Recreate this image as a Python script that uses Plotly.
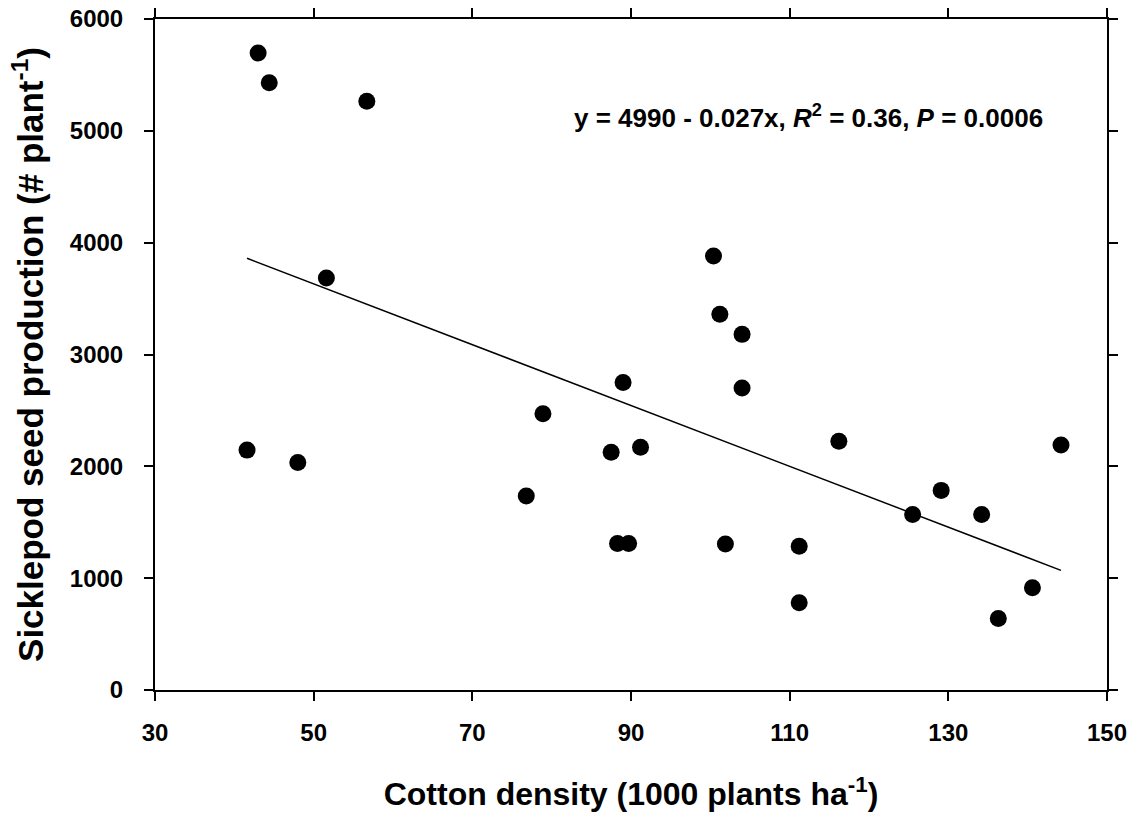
import plotly.graph_objects as go

# Data
cotton_density = [41.6, 43.0, 44.4, 48.0, 51.6, 56.7, 76.8, 78.9, 87.5, 88.3, 89.0, 89.7,
                  91.2, 100.4, 101.2, 101.9, 104.0, 104.0, 111.2, 111.2, 116.2, 125.5,
                  129.1, 134.2, 136.3, 140.6, 144.2]
seed_production = [2145, 5695, 5430, 2035, 3685, 5265, 1735, 2470, 2125, 1310, 2750, 1310,
                   2170, 3880, 3360, 1305, 3180, 2700, 1285, 780, 2225, 1570,
                   1785, 1570, 640, 915, 2190]

fit_x = [41.6, 144.2]
fit_y = [3860, 1070]

x_ticks = [30, 50, 70, 90, 110, 130, 150]
y_ticks = [0, 1000, 2000, 3000, 4000, 5000, 6000]

equation_text = "y = 4990 - 0.027x, <i>R</i><sup>2</sup> = 0.36, <i>P</i> = 0.0006"

FONT = "Liberation Sans, Arial, sans-serif"

fig = go.Figure()
fig.add_trace(go.Scatter(x=fit_x, y=fit_y, mode="lines",
                         line=dict(color="black", width=1.5), showlegend=False,
                         hoverinfo="skip"))
fig.add_trace(go.Scatter(x=cotton_density, y=seed_production, mode="markers",
                         marker=dict(color="black", size=17), showlegend=False))

axis_common = dict(showline=True, linecolor="black", linewidth=2, mirror="ticks",
                   ticks="outside", ticklen=9, tickwidth=1.5, tickcolor="black",
                   showgrid=False, zeroline=False, automargin=False,
                   ticklabeloverflow="allow",
                   tickfont=dict(family=FONT, size=24, color="black", weight="bold"))

fig.update_xaxes(range=[30, 150], tickvals=x_ticks, ticktext=[str(v) for v in x_ticks],
                 title=dict(text="<b>Cotton density (1000 plants ha<sup>-1</sup>)</b>",
                            font=dict(family=FONT, size=32, color="black"), standoff=38),
                 ticklabelstandoff=11,
                 **axis_common)
fig.update_yaxes(range=[0, 6000], tickvals=y_ticks, ticktext=[str(v) for v in y_ticks],
                 title=dict(text="<b>Sicklepod seed production (# plant<sup>-1</sup>)</b>",
                            font=dict(family=FONT, size=35, color="black"), standoff=16),
                 ticklabelstandoff=16,
                 **axis_common)

fig.add_annotation(x=82.6, y=5124, xref="x", yref="y", xanchor="left", yanchor="middle",
                   text="<b>" + equation_text + "</b>", showarrow=False,
                   font=dict(family=FONT, size=26, color="black"))

fig.update_layout(width=1143, height=817, plot_bgcolor="white", paper_bgcolor="white",
                  margin=dict(l=155, r=36, t=19, b=127))

# remove the default page margin so the figure sits at the window's top-left corner
fig.write_html("out.html", config={"displayModeBar": False},
               post_script="document.body.style.margin='0';document.body.style.overflow='hidden';")
